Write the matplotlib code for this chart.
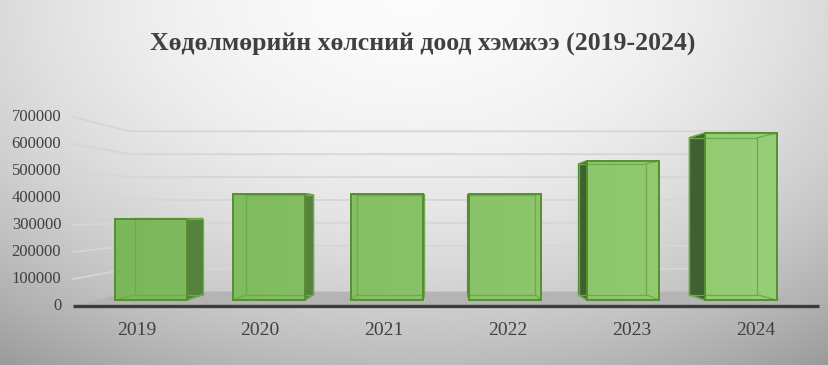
import numpy as np
import matplotlib.pyplot as plt
from matplotlib.patches import Polygon

years = ["2019", "2020", "2021", "2022", "2023", "2024"]
wages = [320000, 420000, 420000, 420000, 550000, 660000]
y_ticks = [0, 100000, 200000, 300000, 400000, 500000, 600000, 700000]
title = "Хөдөлмөрийн хөлсний доод хэмжээ (2019-2024)"

# fake perspective: a point (x, v) on a plane of depth s is drawn at
# VX + s*(x - VX), VY + s*(v - VY)
VX, VY = 2.5, 350000
S_FLOOR, S_BACK, S_WALL, S_LABEL = 1.068, 0.94, 0.905, 1.05
BAR_W = 0.61
FLOOR_L, FLOOR_R = -0.46, 5.46


def proj(x, v, s):
    return VX + s*(x - VX), VY + s*(v - VY)


fig = plt.figure(figsize=(8.29, 3.65), dpi=100)

# background gradient
bg = fig.add_axes([0, 0, 1, 1])
bg.axis("off")
gx, gy = np.meshgrid(np.linspace(0, 1, 300), np.linspace(0, 1, 150))
r = np.sqrt(((gx - 0.5)/0.7)**2 + ((gy - 0.0)/1.0)**2)
shade = np.clip(0.985 - 0.25*r**2, 0, 1)
bg.imshow(np.dstack([shade]*3), aspect="auto", extent=[0, 1, 0, 1], origin="upper")
bg.set_xlim(0, 1)
bg.set_ylim(0, 1)

ax = fig.add_axes([0, 0, 1, 1])
ax.patch.set_visible(False)
ax.axis("off")

# wall gridlines and value labels
for t in y_ticks:
    fx, fy = proj(FLOOR_L, t, S_FLOOR)
    bx, by = proj(FLOOR_L, t, S_WALL)
    rx, ry = proj(FLOOR_R, t, S_WALL)
    if t > 0:
        ax.plot([fx, bx, rx], [fy, by, ry], color="#d6d6d6", lw=1.3, zorder=1)
    ax.text(fx - 0.1, fy, str(t), ha="right", va="center", fontsize=12,
            family="Liberation Serif", color="#404040")

# floor
floor = [proj(FLOOR_L, 0, S_FLOOR), proj(FLOOR_R, 0, S_FLOOR),
         proj(FLOOR_R, 0, S_WALL), proj(FLOOR_L, 0, S_WALL)]
ax.add_patch(Polygon(floor, closed=True, fc="#b4b4b4", ec="none", zorder=2))
ax.plot([floor[0][0], floor[1][0]], [floor[0][1], floor[1][1]],
        color="#3c3c3c", lw=2.4, solid_capstyle="butt", zorder=3)

# horizontal colour gradient for the bar fronts
grad = np.linspace(0, 1, 256)[None, :]
c0 = np.array([0x78, 0xb3, 0x58]) / 255
c1 = np.array([0x98, 0xcf, 0x78]) / 255
front_img = c0 + (c1 - c0)*grad[..., None]

for i, val in enumerate(wages):
    xl, xr = i - BAR_W/2, i + BAR_W/2
    front = [(xl, 0), (xr, 0), (xr, val), (xl, val)]
    back = [proj(x, v, S_BACK) for x, v in front]

    # side face
    if i < VX:
        side = [front[1], front[2], back[2], back[1]]
        side_col = "#56813f"
    else:
        side = [front[0], front[3], back[3], back[0]]
        side_col = "#3f6030"
    ax.add_patch(Polygon(side, closed=True, fc=side_col, ec="#4f8a2f",
                         lw=1.0, zorder=4))
    # top face
    if val < VY:
        top = [front[3], front[2], back[2], back[3]]
        ax.add_patch(Polygon(top, closed=True, fc="#9fd47f", ec="#558f30",
                             lw=1.0, zorder=4))

    face = Polygon(front, closed=True, fc="none", ec="#558f30", lw=1.4, zorder=6)
    ax.add_patch(face)
    im = ax.imshow(front_img, aspect="auto", extent=[-1.28, 5.746, 0, 700000],
                   zorder=5)
    im.set_clip_path(Polygon(front, closed=True, transform=ax.transData))

    # back edges seen through the bar
    bxs = [p[0] for p in back] + [back[0][0]]
    bys = [p[1] for p in back] + [back[0][1]]
    ax.plot(bxs, bys, color="#6eaa48", lw=0.9, zorder=5.5)
    for (x0, y0), (x1, y1) in zip(front, back):
        ax.plot([x0, x1], [y0, y1], color="#6eaa48", lw=0.9, zorder=5.5)

    # category label
    lx, ly = proj(i, -100000, S_LABEL)
    ax.text(lx, -118600, years[i], ha="center", va="center", fontsize=14,
            family="Liberation Serif", color="#404040")

ax.set_xlim(-1.28, 5.746)
ax.set_ylim(-256900, 1185770)

fig.text(0.51, 0.877, title, ha="center", va="center", fontsize=18.5,
         fontweight="bold", family="Liberation Serif", color="#404040")

fig.savefig("out.png", dpi=100)
